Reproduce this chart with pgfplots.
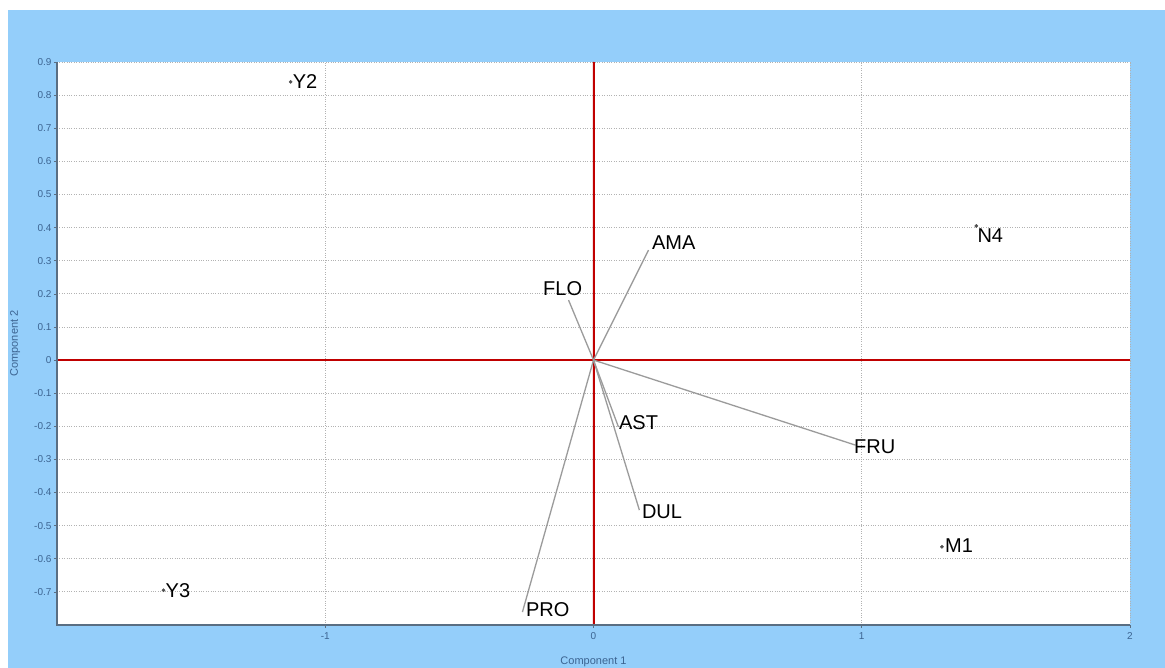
\documentclass[border=0pt]{standalone}
\usepackage{fontspec}
\setmainfont{Liberation Sans}
\usepackage{pgfplots}
\pgfplotsset{compat=1.18}
\definecolor{bgblue}{RGB}{148,206,250}
\definecolor{axcol}{RGB}{90,110,130}
\definecolor{tickcol}{RGB}{60,100,145}
\definecolor{zerored}{RGB}{192,0,0}
\definecolor{veccol}{RGB}{155,155,155}
\definecolor{ptcol}{RGB}{80,80,80}
\tikzset{lab/.style={font=\fontsize{20}{24}\selectfont, text=black, anchor=base west, inner sep=0pt}}
\pgfplotsset{vec/.style={veccol, line width=1.3pt},
  pt/.style={only marks, mark=*, mark size=1.6pt, ptcol,
  nodes near coords, point meta=explicit symbolic,
  nodes near coords style={font=\fontsize{20}{24}\selectfont, text=black, inner sep=0pt}}}
\begin{document}
\begin{tikzpicture}
\fill[white] (0pt,0pt) rectangle (1165pt,668pt);
\fill[bgblue] (8pt,0pt) rectangle (1165pt,658pt);
\begin{axis}[
  at={(57pt,43pt)}, anchor=south west,
  scale only axis, width=1073pt, height=563pt,
  xmin=-2, xmax=2, ymin=-0.8, ymax=0.9,
  clip=false,
  axis background/.style={fill=white},
  axis line style={draw=none},
  xtick={-1,0,1,2},
  ytick={-0.7,-0.6,-0.5,-0.4,-0.3,-0.2,-0.1,0,0.1,0.2,0.3,0.4,0.5,0.6,0.7,0.8,0.9},
  tick pos=left,
  tick align=outside, major tick length=3pt,
  tick style={draw=axcol, line width=0.6pt},
  grid=major,
  major grid style={dotted, draw=black!30, line width=0.8pt},
  /pgf/number format/fixed, /pgf/number format/precision=1,
  /pgf/number format/assume math mode=true,
  ticklabel style={font=\fontsize{10}{11}\selectfont, text=tickcol},
  xticklabel style={yshift=-1pt},
  yticklabel style={xshift=1pt},
  xlabel={Component 1}, ylabel={Component 2},
  label style={font=\fontsize{11}{12}\selectfont, text=tickcol},
  xlabel style={at={(axis description cs:0.5,-0.050)}, anchor=north},
  ylabel style={at={(axis description cs:-0.031,0.5)}, anchor=south},
]
% zero lines
\addplot[draw=zerored, line width=1.4pt] coordinates {(-2,0) (2,0)};
\addplot[draw=zerored, fill=zerored, line width=0.3pt] coordinates {(-0.0021,-0.8) (0.0021,-0.8) (0.0021,0.9) (-0.0021,0.9) (-0.0021,-0.8)};
% loading vectors
\addplot[vec] coordinates {(0,0) (0.205,0.332)} node[pos=1, lab, xshift=3pt, yshift=1pt] {AMA};
\addplot[vec] coordinates {(0,0) (-0.093,0.181)} node[pos=1, lab, xshift=-26pt, yshift=5pt] {FLO};
\addplot[vec] coordinates {(0,0) (0.977,-0.257)} node[pos=1, lab, xshift=-2pt, yshift=-8pt] {FRU};
\addplot[vec] coordinates {(0,0) (0.093,-0.202)} node[pos=1, lab, xshift=0pt, yshift=-3pt] {AST};
\addplot[vec] coordinates {(0,0) (0.171,-0.453)} node[pos=1, lab, xshift=2pt, yshift=-8pt] {DUL};
\addplot[vec] coordinates {(0,0) (-0.265,-0.761)} node[pos=1, lab, xshift=3pt, yshift=-4pt] {PRO};
% observation points
\addplot[pt, nodes near coords style={anchor=west, xshift=2pt}] coordinates {(-1.129,0.840) [Y2]};
\addplot[pt, nodes near coords style={anchor=west, xshift=2pt}] coordinates {(-1.603,-0.695) [Y3]};
\addplot[pt, nodes near coords style={anchor=north west, xshift=1pt, yshift=-3pt}] coordinates {(1.427,0.405) [N4]};
\addplot[pt, nodes near coords style={anchor=west, xshift=3pt, yshift=1pt}] coordinates {(1.299,-0.564) [M1]};
\draw[axcol, line width=1.6pt] (rel axis cs:0,1) -- (rel axis cs:0,0) -- (rel axis cs:1,0);
\end{axis}
\pgfresetboundingbox
\path[use as bounding box] (0pt,0pt) rectangle (1165pt,668pt);
\end{tikzpicture}
\end{document}
